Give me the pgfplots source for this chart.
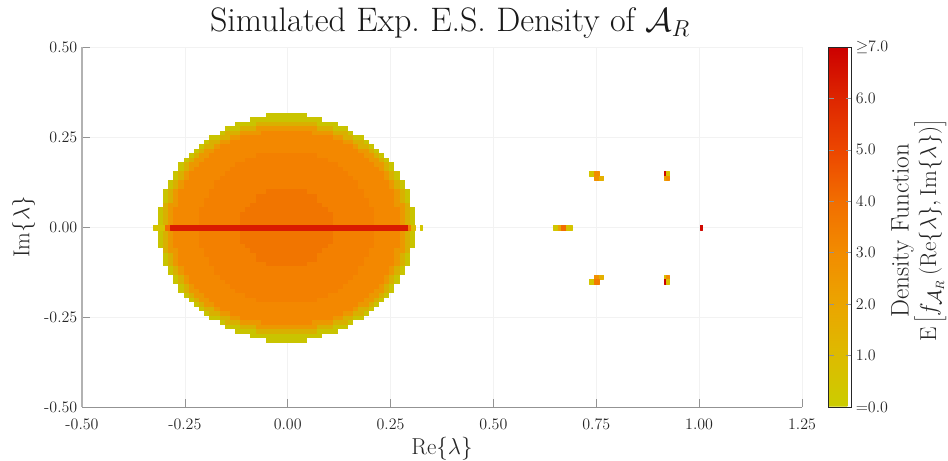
\documentclass[border=0pt]{standalone}
\usepackage{pgfplots}
\usepackage{pgfplotstable}
\pgfplotsset{compat=1.18}
\definecolor{txt}{HTML}{262626}
\definecolor{layA}{HTML}{C9C400}
\definecolor{layB}{HTML}{D9B000}
\definecolor{layC}{HTML}{EC9800}
\definecolor{layD}{HTML}{F38800}
\definecolor{layE}{HTML}{F38000}
\definecolor{layF}{HTML}{F17500}
% half-widths of the disk per row, in cells; k = row number from the centre
\pgfplotstableread{
k  a  b  c  d  e  f
0  25 24 23 22 17 9
1  25 24 23 22 17 9
2  25 24 23 22 17 9
3  25 24 23 22 17 9
4  25 24 23 22 17 8
5  24 24 23 21 16 7
6  24 23 22 21 16 6
7  24 23 22 21 15 6
8  24 23 22 21 15 4
9  23 22 21 20 14 0
10 23 22 21 20 14 0
11 22 21 20 19 13 0
12 22 21 20 19 12 0
13 21 20 19 18 11 0
14 21 20 19 17 10 0
15 20 19 18 16 8  0
16 19 18 17 15 6  0
17 18 17 16 14 0  0
18 17 16 14 13 0  0
19 16 15 13 11 0  0
20 15 13 11 9  0  0
21 13 12 9  5  0  0
22 12 9  6  0  0  0
23 10 6  0  0  0  0
24 7  0  0  0  0  0
25 4  0  0  0  0  0
}\diskrows
\newcommand{\disklayer}[2]{%
 \addplot[draw=none,forget plot,mark=none,error bars/.cd,x dir=both,x explicit,error mark=none,
   error bar style={line width=3.5pt,color=#2,line cap=butt}]
   table[x expr=-0.003,y expr=\thisrow{k}*0.0125-0.002,x error expr=\thisrow{#1}*0.0125]{\diskrows};
 \addplot[draw=none,forget plot,mark=none,error bars/.cd,x dir=both,x explicit,error mark=none,
   error bar style={line width=3.5pt,color=#2,line cap=butt}]
   table[x expr=-0.003,y expr=-\thisrow{k}*0.0125-0.002,x error expr=\thisrow{#1}*0.0125]{\diskrows};
}
\begin{document}
\begin{tikzpicture}
\path[use as bounding box] (-61.5pt,-39.75pt) rectangle (649.5pt,305.25pt);
\begin{axis}[
 scale only axis,width=540pt,height=270pt,
 xmin=-0.5,xmax=1.25,ymin=-0.5,ymax=0.5,
 axis x line*=bottom,axis y line*=left,
 axis line style={draw=gray!85,line width=0.6pt,-},
 y axis line style={draw=gray!60,line width=0.8pt},
 xtick={-0.5,-0.25,0,0.25,0.5,0.75,1,1.25},
 ytick={-0.5,-0.25,0,0.25,0.5},
 xticklabels={-0.50,-0.25,0.00,0.25,0.50,0.75,1.00,1.25},
 yticklabels={-0.50,-0.25,0.00,0.25,0.50},
 tick align=inside,major tick length=6pt,
 tick style={draw=gray!85,line width=0.5pt},
 ticklabel style={font=\fontsize{12}{14}\selectfont,text=txt},
 xticklabel style={yshift=-5.5pt},
 grid=major,grid style={draw=gray!10,line width=0.5pt},
 title={Simulated Exp.\ E.S.\ Density of $\mathcal{A}_R$},
 title style={font=\fontsize{25.5}{30}\selectfont,text=black!90,xshift=6pt,yshift=-3pt},
 xlabel={$\mathrm{Re}\{\lambda\}$},
 ylabel={$\mathrm{Im}\{\lambda\}$},
 xlabel style={yshift=1.5pt},
 label style={font=\fontsize{19}{22}\selectfont,text=txt},
 colormap={esd}{rgb255(0pt)=(238,238,150);rgb255(4pt)=(204,204,0);rgb255(100pt)=(221,187,0);rgb255(200pt)=(235,165,0);rgb255(300pt)=(242,140,0);rgb255(400pt)=(242,110,0);rgb255(500pt)=(236,70,0);rgb255(600pt)=(222,38,0);rgb255(700pt)=(204,0,0)},
 point meta min=0,point meta max=7,
 colorbar,
 colorbar style={
  at={(parent axis.north east)},anchor=north west,xshift=11.25pt,
  width=17pt,height=270pt,
  axis line style={draw=txt,line width=0.6pt},
  ytick={0,1,2,3,4,5,6,7},
  yticklabels={$=$0.0,1.0,2.0,3.0,4.0,5.0,6.0,$\geq$7.0},
  yticklabel pos=right,
  ticklabel style={font=\fontsize{12}{14}\selectfont,text=txt},
  tick align=inside,major tick length=4pt,
  ylabel={Density Function\\$\mathrm{E}\left[f_{\mathcal{A}_R}\left(\mathrm{Re}\{\lambda\},\mathrm{Im}\{\lambda\}\right)\right]$},
  ylabel shift=-4.5pt,
  ylabel style={at={(ticklabel cs:0.49)},align=center,font=\fontsize{19}{20.5}\selectfont,text=txt},
 },
]
\disklayer{a}{layA}
\disklayer{b}{layB}
\disklayer{c}{layC}
\disklayer{d}{layD}
\disklayer{e}{layE}
\disklayer{f}{layF}
\addplot[patch,patch type=rectangle,shader=flat,point meta=explicit,forget plot]
 table[meta=c]{
x y c
-0.327 -0.0083 0.5
-0.298 -0.0083 0.5
-0.298 0.0043 0.5
-0.327 0.0043 0.5
-0.298 -0.0083 4
-0.285 -0.0083 4
-0.285 0.0043 4
-0.298 0.0043 4
-0.285 -0.0083 6.3
0.2926 -0.0083 6.3
0.2926 0.0043 6.3
-0.285 0.0043 6.3
0.2926 -0.0083 3.5
0.30 -0.0083 3.5
0.30 0.0043 3.5
0.2926 0.0043 3.5
0.30 -0.0083 1
0.31 -0.0083 1
0.31 0.0043 1
0.30 0.0043 1
0.322 -0.0083 0.4
0.327 -0.0083 0.4
0.327 0.0043 0.4
0.322 0.0043 0.4
0.645 -0.0083 0.4
0.657 -0.0083 0.4
0.657 0.0043 0.4
0.645 0.0043 0.4
0.657 -0.0083 2
0.665 -0.0083 2
0.665 0.0043 2
0.657 0.0043 2
0.665 -0.0083 4
0.678 -0.0083 4
0.678 0.0043 4
0.665 0.0043 4
0.678 -0.0083 0.5
0.691 -0.0083 0.5
0.691 0.0043 0.5
0.678 0.0043 0.5
1.002 -0.0083 6.8
1.0087 -0.0083 6.8
1.0087 0.0043 6.8
1.002 0.0043 6.8
0.7324 0.1418 0.4
0.7445 0.1418 0.4
0.7445 0.1543 0.4
0.7324 0.1543 0.4
0.7445 0.1418 3
0.7566 0.1418 3
0.7566 0.1543 3
0.7445 0.1543 3
0.7445 0.1293 2.8
0.7566 0.1293 2.8
0.7566 0.1418 2.8
0.7445 0.1418 2.8
0.7566 0.1293 1.5
0.768 0.1293 1.5
0.768 0.1418 1.5
0.7566 0.1418 1.5
0.7445 -0.1458 2.8
0.7566 -0.1458 2.8
0.7566 -0.1333 2.8
0.7445 -0.1333 2.8
0.7566 -0.1458 1.5
0.768 -0.1458 1.5
0.768 -0.1333 1.5
0.7566 -0.1333 1.5
0.7324 -0.1583 0.4
0.7445 -0.1583 0.4
0.7445 -0.1458 0.4
0.7324 -0.1458 0.4
0.7445 -0.1583 3.6
0.7566 -0.1583 3.6
0.7566 -0.1458 3.6
0.7445 -0.1458 3.6
0.914 0.1418 6.8
0.9204 0.1418 6.8
0.9204 0.1543 6.8
0.914 0.1543 6.8
0.9204 0.1418 0.6
0.9265 0.1418 0.6
0.9265 0.1543 0.6
0.9204 0.1543 0.6
0.914 0.1293 2.2
0.9204 0.1293 2.2
0.9204 0.1418 2.2
0.914 0.1418 2.2
0.9204 0.1293 3
0.9265 0.1293 3
0.9265 0.1418 3
0.9204 0.1418 3
0.914 -0.1458 0.8
0.9204 -0.1458 0.8
0.9204 -0.1333 0.8
0.914 -0.1333 0.8
0.9204 -0.1458 3
0.9265 -0.1458 3
0.9265 -0.1333 3
0.9204 -0.1333 3
0.914 -0.1583 7
0.9204 -0.1583 7
0.9204 -0.1458 7
0.914 -0.1458 7
0.9204 -0.1583 0.8
0.9265 -0.1583 0.8
0.9265 -0.1458 0.8
0.9204 -0.1458 0.8
};
\end{axis}
\end{tikzpicture}
\end{document}
